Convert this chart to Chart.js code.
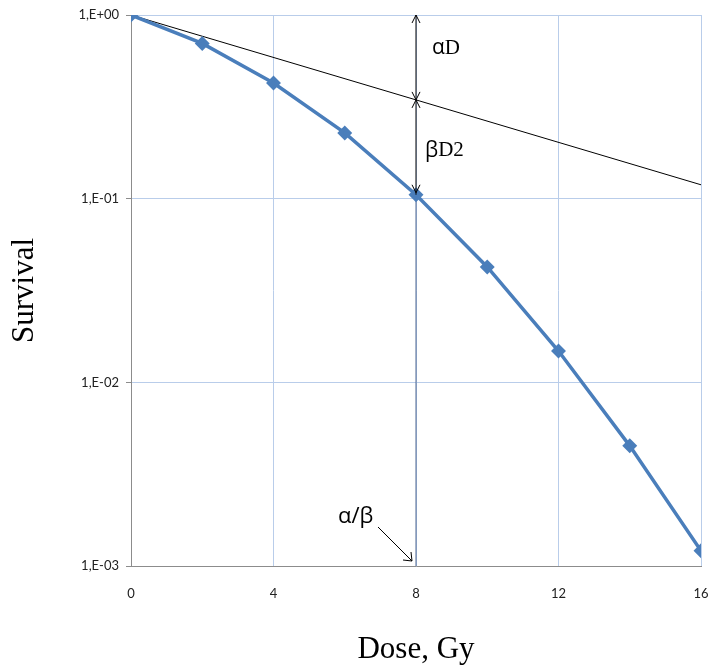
<!DOCTYPE html>
<html>
<head>
<meta charset="utf-8">
<title>Survival vs dose</title>
<script src="https://cdn.jsdelivr.net/npm/chart.js@4.4.1/dist/chart.umd.min.js"></script>
<style>
  body { margin: 0; background: #fff; }
  #wrap { width: 711px; height: 668px; }
</style>
</head>
<body>
<div id="wrap"><canvas id="mycanvas" width="711" height="668"></canvas></div>
<script>
// data
var doses = [0, 2, 4, 6, 8, 10, 12, 14, 16];
var survival = [1.0, 0.70, 0.426, 0.228, 0.105, 0.0425, 0.0148, 0.00451, 0.00121];
var alphaLineDoses = [0, 16];
var alphaLineSurvival = [1.0, 0.119];
var alphaBetaDose = 8; // alpha/beta ratio
var xTickValues = [0, 4, 8, 12, 16];
var yTickValues = [0.001, 0.01, 0.1, 1];
var yTickLabels = ['1,E-03', '1,E-02', '1,E-01', '1,E+00'];

function toPoints(xs, ys) {
    var pts = [];
    for (var i = 0; i < xs.length; i++) pts.push({ x: xs[i], y: ys[i] });
    return pts;
}

var abIndex = doses.indexOf(alphaBetaDose);

// arrow heads (open V)
function arrowHead(ctx, x, y, dir, len, half) {
    ctx.beginPath();
    ctx.moveTo(x - half, y - dir * len);
    ctx.lineTo(x, y);
    ctx.lineTo(x + half, y - dir * len);
    ctx.stroke();
}

var annotations = {
    id: 'annotations',
    afterDatasetsDraw: function(chart) {
        var ctx = chart.ctx;
        var xs = chart.scales.x, ys = chart.scales.y;
        var px = xs.getPixelForValue(alphaBetaDose);
        var yTop = ys.getPixelForValue(1);
        // value of the straight line at alpha/beta dose (log interpolation)
        var l0 = Math.log10(alphaLineSurvival[0]), l1 = Math.log10(alphaLineSurvival[1]);
        var t = (alphaBetaDose - alphaLineDoses[0]) / (alphaLineDoses[1] - alphaLineDoses[0]);
        var yMid = ys.getPixelForValue(Math.pow(10, l0 + t * (l1 - l0)));
        var yCurve = ys.getPixelForValue(survival[abIndex]);

        ctx.save();
        ctx.strokeStyle = '#000';
        ctx.lineWidth = 1;
        ctx.beginPath();
        ctx.moveTo(px, yTop);
        ctx.lineTo(px, yCurve);
        ctx.stroke();
        // alpha D arrow
        arrowHead(ctx, px, yTop, -1, 8, 4);
        arrowHead(ctx, px, yMid, 1, 8, 4);
        // beta D2 arrow
        arrowHead(ctx, px, yMid, -1, 8, 4);
        arrowHead(ctx, px, yCurve - 2, 1, 8, 4);

        // alpha/beta pointer
        var yBot = ys.getPixelForValue(yTickValues[0]);
        var ex = px - 4, ey = yBot - 5;
        ctx.beginPath();
        ctx.moveTo(px - 38, yBot - 39);
        ctx.lineTo(ex, ey);
        ctx.stroke();
        ctx.beginPath();
        ctx.moveTo(ex - 9, ey - 1);
        ctx.lineTo(ex, ey);
        ctx.lineTo(ex - 1, ey - 9);
        ctx.stroke();

        // labels
        ctx.fillStyle = '#000';
        ctx.textBaseline = 'middle';
        ctx.textAlign = 'left';
        ctx.font = '21px "Open Sans", sans-serif';
        ctx.fillText('α', px + 16, yTop + 33);
        var w = ctx.measureText('α').width;
        ctx.font = '21px "Liberation Serif", serif';
        ctx.fillText('D', px + 16 + w, yTop + 33);

        ctx.font = '21px "Open Sans", sans-serif';
        ctx.fillText('β', px + 9, yMid + 51);
        w = ctx.measureText('β').width;
        ctx.font = '21px "Liberation Serif", serif';
        ctx.fillText('D2', px + 9 + w, yMid + 51);

        ctx.font = '22px "Open Sans", sans-serif';
        ctx.fillText('α/β', px - 78, yBot - 49);
        ctx.restore();
    }
};

var chartdata = {
    datasets: [
        {
            label: 'alpha/beta',
            data: [{ x: alphaBetaDose, y: yTickValues[0] }, { x: alphaBetaDose, y: survival[abIndex] }],
            borderColor: '#4f6690',
            borderWidth: 1,
            pointRadius: 0,
            order: 3
        },
        {
            label: 'alpha line',
            data: toPoints(alphaLineDoses, alphaLineSurvival),
            borderColor: '#000',
            borderWidth: 1,
            pointRadius: 0,
            order: 2
        },
        {
            label: 'Survival',
            data: toPoints(doses, survival),
            borderColor: '#4a7ebb',
            backgroundColor: '#4a7ebb',
            borderWidth: 3.5,
            pointStyle: 'rectRot',
            pointRadius: 5,
            pointBackgroundColor: '#4a7ebb',
            pointBorderColor: '#4a7ebb',
            order: 1
        }
    ]
};

var ctx = document.getElementById('mycanvas');
var chart = new Chart(ctx, {
    type: 'line',
    data: chartdata,
    plugins: [annotations],
    options: {
        responsive: false,
        animation: false,
        layout: { padding: { top: 15, right: 10, left: 0, bottom: 0 } },
        plugins: {
            legend: { display: false },
            tooltip: { enabled: false }
        },
        scales: {
            x: {
                type: 'linear',
                min: 0,
                max: 16,
                afterBuildTicks: function(scale) {
                    scale.ticks = xTickValues.map(function(v) { return { value: v }; });
                },
                afterFit: function(scale) { scale.height = 102; },
                // invisible tick marks just push the labels down
                grid: { color: '#b9cdea', tickColor: 'rgba(0,0,0,0)', tickLength: 20 },
                border: { color: '#8c8c8c' },
                ticks: {
                    padding: 0,
                    color: '#222',
                    font: { family: 'Lato', size: 13 },
                    maxRotation: 0,
                    callback: function(v) { return String(v); }
                },
                title: {
                    display: true,
                    text: 'Dose, Gy',
                    color: '#000',
                    font: { family: '"Liberation Serif"', size: 31 },
                    padding: { bottom: 0 }
                }
            },
            y: {
                type: 'logarithmic',
                min: 0.001,
                max: 1,
                afterBuildTicks: function(scale) {
                    scale.ticks = yTickValues.map(function(v) { return { value: v }; });
                },
                afterFit: function(scale) { scale.width = 131; },
                grid: { color: '#b9cdea', tickColor: '#8c8c8c', tickLength: 5 },
                border: { color: '#8c8c8c' },
                ticks: {
                    padding: 7,
                    color: '#222',
                    font: { family: 'Lato', size: 13 },
                    callback: function(v) {
                        var i = yTickValues.indexOf(v);
                        return i >= 0 ? yTickLabels[i] : '';
                    }
                },
                title: {
                    display: true,
                    text: 'Survival',
                    color: '#000',
                    font: { family: '"Liberation Serif"', size: 31 },
                    padding: { top: 6 }
                }
            }
        }
    }
});
</script>
</body>
</html>
